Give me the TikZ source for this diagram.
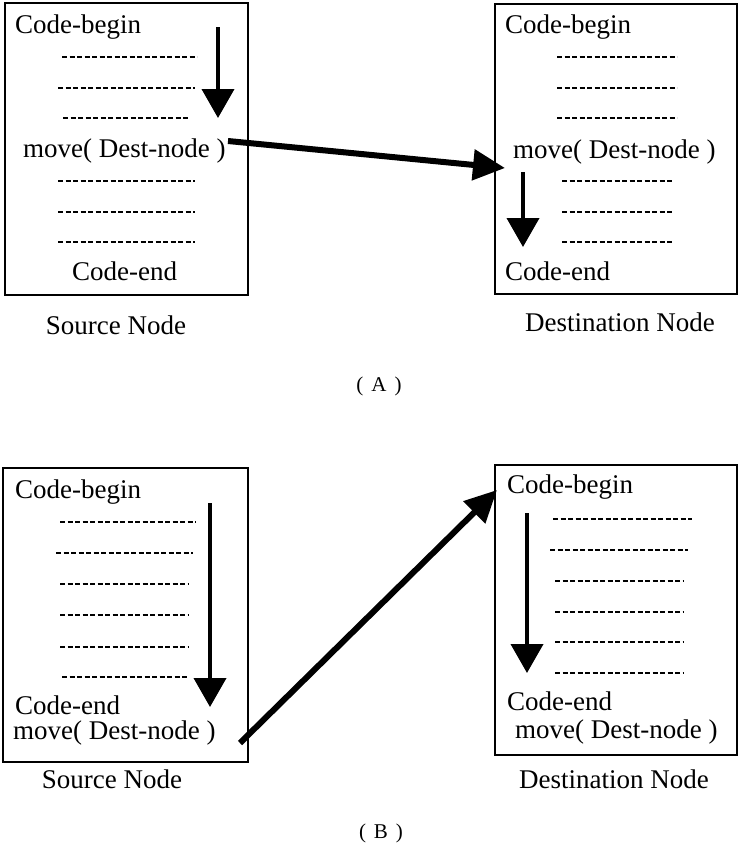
\documentclass[tikz,border=0pt]{standalone}
\usepackage{fontspec}
\setmainfont{Liberation Serif}
\usetikzlibrary{arrows.meta}
\begin{document}
\begin{tikzpicture}[x=1pt,y=-1pt,
  lbl/.style={font=\fontsize{27}{30}\selectfont, inner sep=0pt, anchor=base west},
  nodename/.style={font=\fontsize{27}{30}\selectfont, inner sep=0pt, anchor=base},
  part/.style={font=\fontsize{21}{24}\selectfont, inner sep=0pt, anchor=base},
  box/.style={draw, line width=1.5pt, inner sep=0pt},
  dashline/.style={line width=1.6pt, dash pattern=on 5pt off 2.5pt},
  flow/.style={line width=4pt, -{Triangle[length=29pt,width=32pt]}},
  jump/.style={line width=6pt, -{Triangle[length=32pt,width=30pt]}}]
\useasboundingbox (0,0) rectangle (740,844);

% ---------------- (A) ----------------
\node[box, minimum width=243pt, minimum height=292pt] (srcA) at (126.5,149) {};
\node[box, minimum width=242pt, minimum height=290pt] (dstA) at (616,149) {};

\node[lbl] (srcAbegin) at (15,33) {Code-begin};
\draw[dashline] (62,57) -- (197,57);
\draw[dashline] (58,88) -- (195,88);
\draw[dashline] (63,118) -- (190,118);
\node[lbl] (srcAmove) at (23,157) {move( Dest-node )};
\draw[dashline] (58,181) -- (195,181);
\draw[dashline] (58,212) -- (195,212);
\draw[dashline] (58,242) -- (195,242);
\node[lbl] (srcAend) at (72,280) {Code-end};

\node[lbl] (dstAbegin) at (505,33) {Code-begin};
\draw[dashline] (557,57) -- (677,57);
\draw[dashline] (557,88) -- (677,88);
\draw[dashline] (557,118) -- (677,118);
\node[lbl] (dstAmove) at (513,158) {move( Dest-node )};
\draw[dashline] (562,181) -- (672,181);
\draw[dashline] (562,212) -- (672,212);
\draw[dashline] (562,242) -- (672,242);
\node[lbl] (dstAend) at (505,280) {Code-end};

\node[nodename] (srcAname) at (116,334) {Source Node};
\node[nodename] (dstAname) at (620,331) {Destination Node};
\node[part] (partA) at (379,391) {(\hspace{8pt}A\hspace{8pt})};

\coordinate (srcAtop) at (218,27);
\coordinate (srcAbot) at (218,118);
\coordinate (srcAout) at (228,141);
\coordinate (dstAin) at (505,168);
\coordinate (dstAtop) at (523,172);
\coordinate (dstAbot) at (523,247);
\draw[flow] (srcAtop) -- (srcAbot);
\draw[jump] (srcAout) -- (dstAin);
\draw[flow] (dstAtop) -- (dstAbot);

% ---------------- (B) ----------------
\node[box, minimum width=245pt, minimum height=294pt] (srcB) at (125.5,615) {};
\node[box, minimum width=242pt, minimum height=290pt] (dstB) at (616,610) {};

\node[lbl] (srcBbegin) at (15,498) {Code-begin};
\draw[dashline] (60,522) -- (196,522);
\draw[dashline] (56,553) -- (193,553);
\draw[dashline] (60,584) -- (188,584);
\draw[dashline] (60,615) -- (188,615);
\draw[dashline] (60,647) -- (188,647);
\draw[dashline] (62,677) -- (188,677);
\node[lbl] (srcBend) at (15,714) {Code-end};
\node[lbl] (srcBmove) at (13,739) {move( Dest-node )};

\node[lbl] (dstBbegin) at (507,493) {Code-begin};
\draw[dashline] (553,519) -- (692,519);
\draw[dashline] (550,550) -- (688,550);
\draw[dashline] (555,581) -- (683,581);
\draw[dashline] (555,612) -- (683,612);
\draw[dashline] (555,642) -- (683,642);
\draw[dashline] (555,673) -- (683,673);
\node[lbl] (dstBend) at (507,710) {Code-end};
\node[lbl] (dstBmove) at (515,738) {move( Dest-node )};

\node[nodename] (srcBname) at (112,788) {Source Node};
\node[nodename] (dstBname) at (614,788) {Destination Node};
\node[part] (partB) at (381,838) {(\hspace{8pt}B\hspace{8pt})};

\coordinate (srcBtop) at (210,503);
\coordinate (srcBbot) at (210,707);
\coordinate (srcBout) at (240,743);
\coordinate (dstBin) at (497,490);
\coordinate (dstBtop) at (527,513);
\coordinate (dstBbot) at (527,673);
\draw[flow] (srcBtop) -- (srcBbot);
\draw[jump] (srcBout) -- (dstBin);
\draw[flow] (dstBtop) -- (dstBbot);
\end{tikzpicture}
\end{document}
